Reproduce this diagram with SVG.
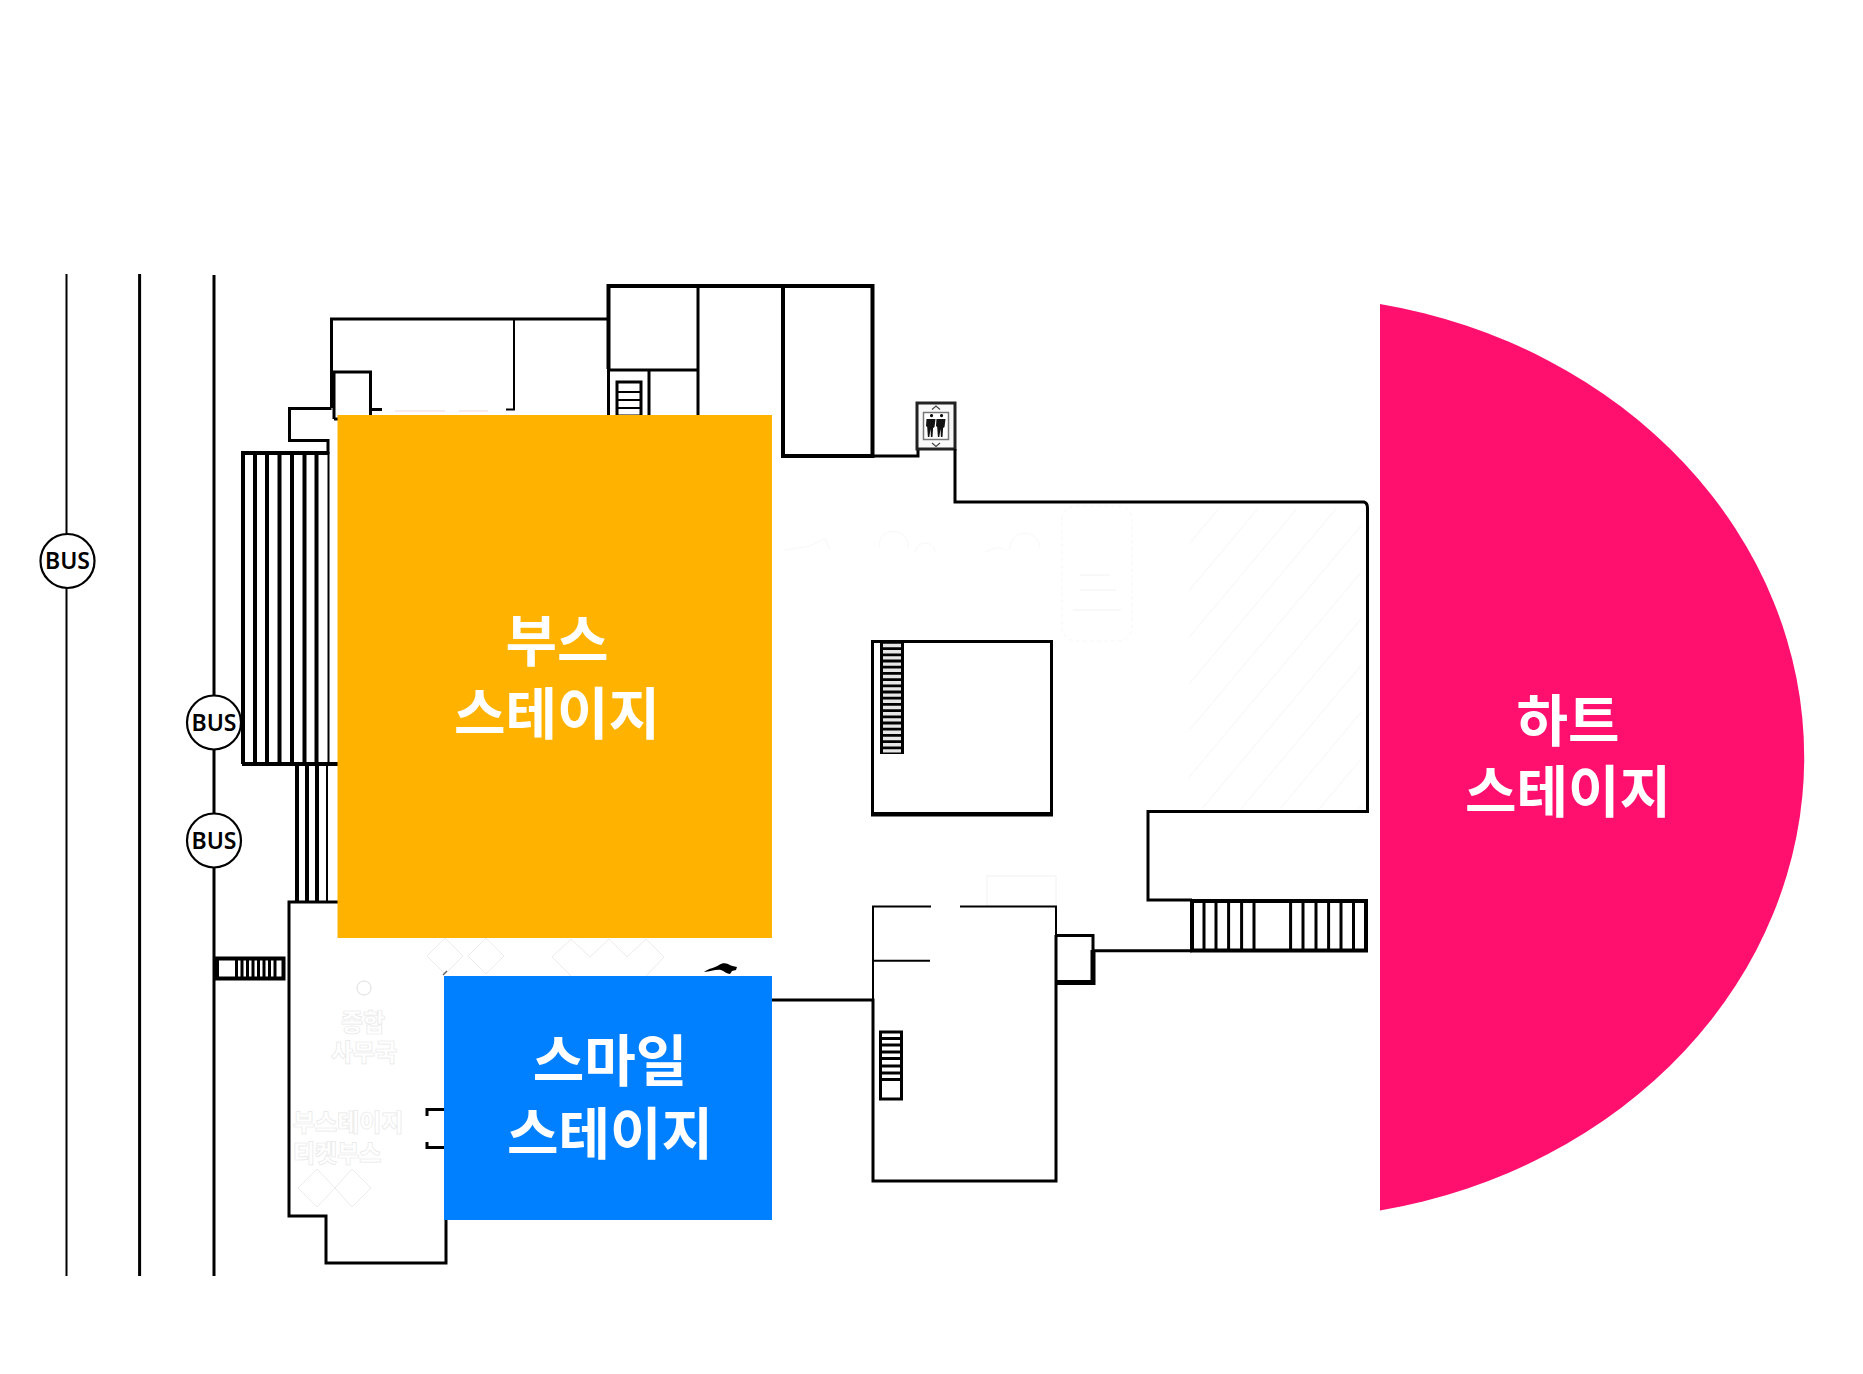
<svg xmlns="http://www.w3.org/2000/svg" width="1863" height="1374" viewBox="0 0 1863 1374">
<style>
.w1{fill:none;stroke:#000;stroke-width:2}
.w2{fill:none;stroke:#000;stroke-width:3}
.w3{fill:none;stroke:#000;stroke-width:4}
.bar{stroke:#000;stroke-width:3;fill:none}
.ghost{fill:none;stroke:#ececec;stroke-width:1}
.gtxt{fill:#fff;stroke:#e8e8e8;stroke-width:.7;font-family:"Noto Sans CJK KR",sans-serif;font-weight:900;font-size:24px}
.bus{fill:#fff;stroke:#000;stroke-width:2.2}
.bt{fill:#000;font-family:"Noto Sans","Liberation Sans",sans-serif;font-weight:600;font-size:23px;text-anchor:middle}
.lbl{fill:#fff;font-family:"Noto Sans CJK KR",sans-serif;font-weight:700;font-size:56px;text-anchor:middle}
</style>
<defs>
<pattern id="hatch" width="30" height="30" patternUnits="userSpaceOnUse" patternTransform="rotate(40)">
<line x1="0" y1="0" x2="0" y2="30" stroke="#f2f2f2" stroke-width="1.2"/>
</pattern>
</defs>
<rect width="1863" height="1374" fill="#fff"/>

<g id="roads">
<line class="w1" x1="66.5" y1="274" x2="66.5" y2="1276"/>
<line class="w2" x1="139.6" y1="274" x2="139.6" y2="1276"/>
<line class="w2" x1="214" y1="275" x2="214" y2="1276"/>
</g>

<g id="ghost-details">
<rect x="1189" y="509" width="172" height="300" fill="url(#hatch)"/>
<rect class="ghost" x="1062" y="506" width="70" height="135" rx="14" stroke-dasharray="4 3" style="stroke:#f7f7f7"/>
<path class="ghost" d="M785 550l25-4 15-8 5 12M880 548c-5-22 30-22 28 0M915 552c3-12 18-12 20 0M985 552c10-5 15-5 20-2M1010 550c-2-20 28-24 30-2" style="stroke:#f8f8f8"/>
<path class="ghost" d="M1073 610h48M1080 590h36M1080 575h30" style="stroke:#f2f2f2"/>
<path class="ghost" d="M427 956l18-18 18 18-18 18zM468 956l18-18 18 18-18 18z"/>
<path class="ghost" d="M552 957l19-18 19 18 19-18 18 18 19-18 18 18-18 19M552 957l19 19"/>
<path class="ghost" d="M298 1188l19-19 18 19-18 19zM335 1188l17-19 19 19-19 19z"/>
<circle class="ghost" cx="364" cy="988" r="7" style="stroke:#ddd"/>
<rect class="ghost" x="987" y="876" width="69" height="30" style="stroke:#f2f2f2"/>
<text class="gtxt" text-anchor="middle"><tspan x="363" y="1031">종합</tspan><tspan x="364" y="1061">사무국</tspan></text>
<text class="gtxt"><tspan x="293" y="1131">부스테이지</tspan><tspan x="293" y="1162">티켓부스</tspan></text>
</g>

<g id="plan-upper-left">
<path class="w2" d="M331.5 408V319H609"/>
<path class="w2" d="M334 419V372H370.5V415"/>
<path class="w2" d="M334 419H340M372 409.5H382"/>
<path class="w1" d="M514 319V409.5H506"/>
<path class="w2" d="M331.5 408.5H289.5V440.5H328V454"/>
<path d="M395 411H445M459 411H488" stroke="#f3e3e3" stroke-width="1.5"/>
</g>
<g id="plan-top-block">
<path class="w3" d="M608.5 369V286H783"/>
<path class="w2" d="M608.5 369V416M608.5 370H698M698 286V416M649 370V416"/>
<rect class="w2" x="617" y="382" width="24" height="34"/>
<path class="w1" d="M617 392H641M617 400H641M617 408H641"/>
<path class="w3" d="M783 286V456H872.5V286H781"/>
<path class="w2" d="M872.5 456H918V446"/>
</g>
<g id="elevator">
<rect x="917" y="403" width="38" height="46" fill="#f8f8f8" stroke="#222" stroke-width="3"/>
<rect x="923.5" y="412.5" width="25" height="27" fill="#fff" stroke="#777" stroke-width="1.5"/>
<path d="M931.5 414a1.6 1.6 0 1 0 .1 0zM926.5 419h9l-1 8-1.4 1-.6 9h-1.6l-.4-8-1.2 8h-1.4l-.7-10-1.2-1zM941.5 414a1.6 1.6 0 1 0 .1 0zM936.5 419h9l-1 8-1.4 1-.6 9h-1.6l-.4-8-1.2 8h-1.4l-.7-10-1.2-1z" fill="#111"/>
<path d="M932 409.5l4-3.5 4 3.5M932 443l4 3.5 4-3.5" fill="none" stroke="#444" stroke-width="1.2"/>
<path class="w2" d="M955 449V502H1364Q1367.5 503 1367.5 508V811.5H1148V900H1192"/>
</g>
<g id="room-center">
<rect class="w2" x="872.5" y="641.5" width="179" height="172"/>
<path class="w3" d="M871 814.5H1053"/>
<rect x="880" y="642" width="24" height="112" fill="#000"/>
<path id="rungs" d="M883 645.5H901M883 651.7H901M883 657.9H901M883 664.1H901M883 670.3H901M883 676.5H901M883 682.7H901M883 688.9H901M883 695.1H901M883 701.3H901M883 707.5H901M883 713.7H901M883 719.9H901M883 726.1H901M883 732.3H901M883 738.5H901M883 744.7H901M883 750.9H901" stroke="#e6e6e6" stroke-width="3.4" fill="none"/>
</g>
<g id="room-lower">
<path class="w1" d="M931 906.5H873V1000M960 906.5H1056V935M873 960.7H930"/>
<path class="w2" d="M772 1000H873V1181H1056V984"/>
<rect class="w2" x="880.5" y="1032" width="21" height="67"/>
<path class="w2" d="M880.5 1038.5H901.5M880.5 1045H901.5M880.5 1052H901.5M880.5 1058.5H901.5M880.5 1066H901.5M880.5 1073H901.5M880.5 1079.5H901.5"/>
<path class="w2" d="M1056 935.5H1093V982M1056 935V984"/>
<path d="M1056 982.5H1093V950" fill="none" stroke="#000" stroke-width="5"/>
<path class="w2" d="M1094 950.7H1192"/>
</g>
<g id="stairs-right">
<rect class="w3" x="1192" y="901" width="174" height="49.5"/>
<path class="bar" d="M1204 901V950M1216 901V950M1228.6 901V950M1241.6 901V950M1254 901V950M1290.6 901V950M1303 901V950M1316 901V950M1328.6 901V950M1341 901V950M1353.5 901V950"/>
</g>
<g id="stairs-left">
<path class="w3" d="M241 453H328M242 764H340"/>
<path class="w3" d="M243 452V764M255 452V764M267 452V764M279.5 452V764M292 452V764M304.5 452V764M316.5 452V764"/>
<path class="w1" d="M328.5 452V764"/>
<path class="w3" d="M297 765V903M307 765V903M317 765V903"/>
<path class="w1" d="M327 765V903"/>
</g>
<g id="plan-lower-left">
<path class="w2" d="M340 902H289V1216H326V1263H446V1218"/>
<rect class="w3" x="216" y="958.5" width="67.5" height="20"/>
<path class="bar" d="M236.5 958V979M242 958V979M247.5 958V979M253 958V979M258.5 958V979M264 958V979M269.5 958V979M275 958V979"/>
<path d="M214 957h5v22h-5z" fill="#000"/>
<path class="w2" d="M444 1109.5H427V1116M427 1142V1147.5H444"/>
<path d="M704 972c5-4 11-4 15-7 3-2 6-2 9-1 3 2 6 2 9 3l-1 3-4 1-2 3c-3 0-6-3-9-4-5-1-11 2-17 2z" fill="#000"/>
<path d="M443 975l4-4" stroke="#666" stroke-width="1.5"/>
</g>

<g id="stage-booth">
<rect x="337.5" y="415" width="434.5" height="523" fill="#FFB300"/>
<text class="lbl"><tspan x="557" y="661">부스</tspan><tspan x="557" y="734">스테이지</tspan></text>
</g>
<g id="stage-smile">
<rect x="444" y="976" width="328" height="244" fill="#0080FF"/>
<text class="lbl"><tspan x="610" y="1081">스마일</tspan><tspan x="610" y="1154">스테이지</tspan></text>
</g>
<g id="stage-heart">
<path d="M1380 304A524 461.7 0 0 1 1380 1210.5Z" fill="#FF0F6E"/>
<text class="lbl"><tspan x="1568" y="741">하트</tspan><tspan x="1568" y="812">스테이지</tspan></text>
</g>

<g id="bus-1"><circle class="bus" cx="67.5" cy="561" r="27"/><text class="bt" x="67.5" y="569">BUS</text></g>
<g id="bus-2"><circle class="bus" cx="214" cy="722.5" r="27"/><text class="bt" x="214" y="730.5">BUS</text></g>
<g id="bus-3"><circle class="bus" cx="214" cy="840.5" r="27"/><text class="bt" x="214" y="848.5">BUS</text></g>
</svg>
